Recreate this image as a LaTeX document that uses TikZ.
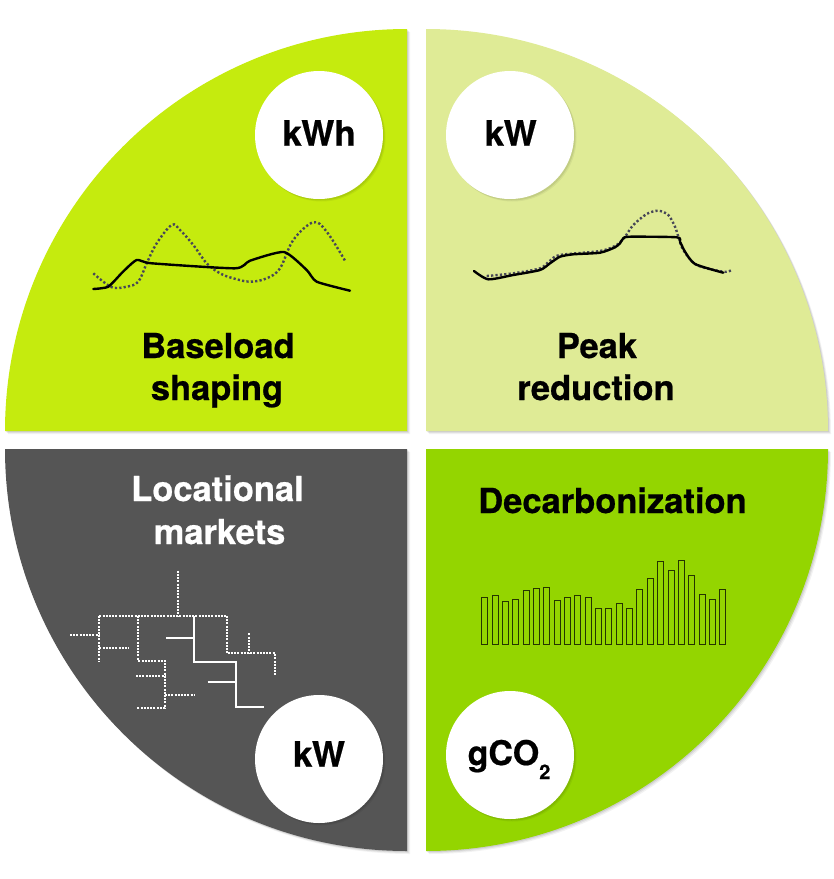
\documentclass[tikz,border=0pt]{standalone}
\usepackage{fontspec}
\setmainfont{TeX Gyre Heros}[BoldFeatures={FakeBold=0.6}]
\definecolor{limeq}{HTML}{C5EB0E}
\definecolor{paleq}{HTML}{DFEB96}
\definecolor{greyq}{HTML}{555555}
\definecolor{greenq}{HTML}{94D500}
\definecolor{dotc}{HTML}{474757}
\begin{document}
\begin{tikzpicture}[x=1pt,y=-1pt,
  lbl/.style={font=\fontsize{34.5}{40}\selectfont\bfseries, anchor=base, inner sep=0},
  unit/.style={font=\fontsize{35}{40}\selectfont\bfseries, anchor=base, inner sep=0},
  disc/.style={circle, fill=white, minimum size=128pt, inner sep=0},
  load/.style={black, line width=2.4pt, line join=round, line cap=round},
  dotline/.style={dotc, line width=2.4pt, dash pattern=on 2.2pt off 2.2pt},
  netdot/.style={white, line width=2.2pt, dash pattern=on 2pt off 1.2pt},
  netline/.style={white, line width=2.2pt},
  bar/.style={draw=black!75!greenq, line width=1pt}]
\useasboundingbox (0,0) rectangle (834,879);
% soft shadows
\foreach \d/\o in {3/0.05,2/0.07,1/0.09} {
  \fill[black, opacity=\o, shift={(\d,\d)}] (407,431) -- (5,431) arc[start angle=180,end angle=270,radius=402] -- cycle;
  \fill[black, opacity=\o, shift={(\d,\d)}] (426,431) -- (426,29) arc[start angle=270,end angle=360,radius=402] -- cycle;
  \fill[black, opacity=\o, shift={(\d,\d)}] (407,449) -- (5,449) arc[start angle=180,end angle=90,radius=402] -- cycle;
  \fill[black, opacity=\o, shift={(\d,\d)}] (426,449) -- (828,449) arc[start angle=0,end angle=90,radius=402] -- cycle;
}
% quadrants
\fill[limeq] (407,431) -- (5,431) arc[start angle=180,end angle=270,radius=402] -- cycle;
\fill[paleq] (426,431) -- (426,29) arc[start angle=270,end angle=360,radius=402] -- cycle;
\fill[greyq] (407,449) -- (5,449) arc[start angle=180,end angle=90,radius=402] -- cycle;
\fill[greenq] (426,449) -- (828,449) arc[start angle=0,end angle=90,radius=402] -- cycle;

% disc shadows
\foreach \d/\o in {2.5/0.05,1.5/0.08} {
  \fill[black, opacity=\o] (319+\d,135+\d) circle[radius=64];
  \fill[black, opacity=\o] (510+\d,135+\d) circle[radius=64];
  \fill[black, opacity=\o] (319+\d,759+\d) circle[radius=64];
  \fill[black, opacity=\o] (510+\d,755+\d) circle[radius=64];
}
\node[disc] (c1) at (319,135) {};
\node[disc] (c2) at (510,135) {};
\node[disc] (c3) at (319,759) {};
\node[disc] (c4) at (510,755) {};
\node[unit] (u1) at (319,145.7) {kWh};
\node[unit] (u2) at (510.7,145.7) {kW};
\node[unit] (u3) at (319,766.7) {kW};
\node[unit, font=\fontsize{34}{40}\selectfont\bfseries] (u4) at (509,765) {gCO\raisebox{-14pt}{\fontsize{20}{20}\selectfont 2}};

% labels
\node[lbl] (t1a) at (218,358) {Baseload};
\node[lbl] (t1b) at (217,400) {shaping};
\node[lbl] (t2a) at (597,358) {Peak};
\node[lbl] (t2b) at (596,400) {reduction};
\node[lbl, text=white] (t3a) at (217.5,501) {Locational};
\node[lbl, text=white] (t3b) at (219.5,544) {markets};
\node[lbl] (t4) at (612.5,513) {Decarbonization};

% baseload chart
\draw[dotline] plot[smooth, tension=0.6] coordinates {(93.3,273.3) (103.3,281.7) (113.3,287.7) (126.7,286.7) (138.3,281.7) (146.7,263.3) (156.7,243.3) (171.7,225) (180,230) (193.3,245) (206.7,263.3) (220,273.3) (233.3,278.3) (250,281.7) (266.7,278.3) (280,268.3) (293.3,240) (313.3,222.3) (326.7,231.7) (345,260.7)};
\draw[load] plot[smooth, tension=0.35] coordinates {(93.3,289) (108.3,286.7) (123,271.7) (136.7,260) (151.7,263.3) (235,268.3) (250,260.7) (284,252) (306.7,270) (316.7,281.7) (350,290.7)};

% peak chart
\draw[dotline] plot[smooth, tension=0.5] coordinates {(486.7,276) (513.3,273.3) (540,268.3) (550,260.7) (560,255) (600,251) (616.7,245) (625,236.7) (633.3,225) (646.7,214) (658.3,210.7) (668.3,215) (675,226.7) (678.3,236.7) (683.3,250) (696.7,265) (723.3,271.7) (731.7,270)};
\draw[load] plot[smooth, tension=0.4] coordinates {(474,271) (488.3,279.3) (513.3,275) (540,270) (550,263.3) (560,256.7) (573.3,254.3) (600,252.7) (615,247.3) (620,243.3) (623.3,238.3) (630,236.7) (676.7,237.3) (680,241.7) (685,251.7) (695,264) (723.3,272.7)};

% network
\draw[netdot] (177.7,570.7) -- (177.7,616);
\draw[netdot] (99.3,616) -- (226.7,616);
\draw[netdot] (99.3,616) -- (99.3,661.7);
\draw[netdot] (70,635) -- (99.3,635);
\draw[netdot] (99.3,648.3) -- (128.3,648.3);
\draw[netdot] (138.3,616) -- (138.3,660.7) -- (165,660.7) -- (165,707.7) -- (136.7,707.7);
\draw[netdot] (136,675.7) -- (165,675.7);
\draw[netdot] (165,695) -- (195,695);
\draw[netdot] (226.7,616) -- (226.7,653.3) -- (275,653.3) -- (275,675);
\draw[netdot] (249.3,633.3) -- (249.3,653.3);
\draw[netline] (194.3,616) -- (194.3,661.7) -- (236,661.7) -- (236,706.7) -- (264,706.7);
\draw[netline] (166,637.7) -- (194.3,637.7);
\draw[netline] (207.7,681.7) -- (236,681.7);

% bars
\foreach \t [count=\i from 0] in {597.3,595,601,599.3,590,588.3,587.3,600,597.3,595.7,597.3,608.3,608.3,603.3,608.3,589.3,578.7,561.3,570.7,560,575.3,594.3,599,589.3}
  \draw[bar] ({481.7+10.35*\i},644.3) rectangle ({487.7+10.35*\i},\t);
\end{tikzpicture}
\end{document}
